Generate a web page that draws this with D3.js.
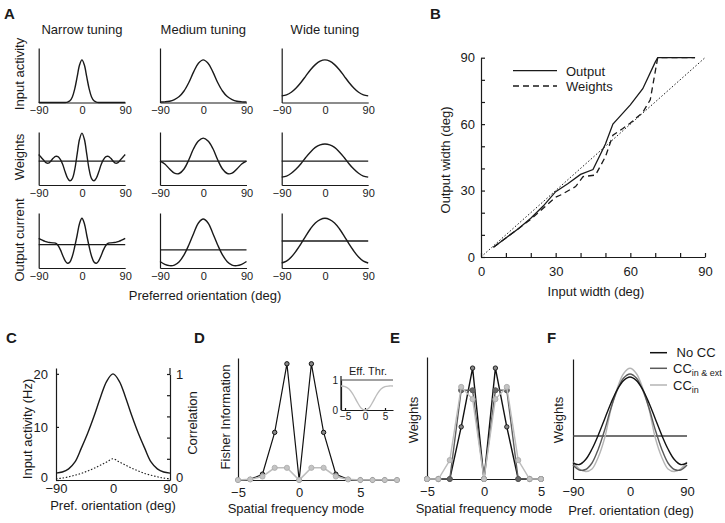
<!DOCTYPE html>
<html>
<head>
<meta charset="utf-8">
<script src="https://cdn.jsdelivr.net/npm/d3@7"></script>
<style>
  body { margin: 0; background: #fff; }
  svg { display: block; }
</style>
</head>
<body>
<svg></svg>
<script>
// ---------- Data ----------

// Panel A: preferred orientation samples (deg)
const orient5 = [-90,-85,-80,-75,-70,-65,-60,-55,-50,-45,-40,-35,-30,-25,-20,-15,-10,-5,0,5,10,15,20,25,30,35,40,45,50,55,60,65,70,75,80,85,90];
const orient10 = [-90,-80,-70,-60,-50,-40,-30,-20,-10,0,10,20,30,40,50,60,70,80,90];

// Input activity (peak = 1)
const inputNarrow = [0,0,0,0,0,0,0,0,0,0,0,0,0.01,0.04,0.13,0.32,0.6,0.88,1,0.88,0.6,0.32,0.13,0.04,0.01,0,0,0,0,0,0,0,0,0,0,0,0];
const inputMedium = [0.01,0.015,0.03,0.07,0.14,0.27,0.47,0.72,0.92,1,0.92,0.72,0.47,0.27,0.14,0.07,0.03,0.015,0.01];
const inputWide = [0.155,0.18,0.24,0.34,0.47,0.62,0.77,0.89,0.97,1,0.97,0.89,0.77,0.62,0.47,0.34,0.24,0.18,0.155];

// Weights (zero line = 0)
const weightsNarrow = [0.24,0.14,0.04,-0.05,-0.07,0.0,0.1,0.17,0.16,0.06,-0.12,-0.38,-0.6,-0.7,-0.62,-0.3,0.25,0.78,1.0,0.78,0.25,-0.3,-0.62,-0.7,-0.6,-0.38,-0.12,0.06,0.16,0.17,0.1,0.0,-0.07,-0.05,0.04,0.14,0.24];
const weightsMedium = [0.0,-0.1,-0.28,-0.43,-0.44,-0.28,0.05,0.45,0.72,0.82,0.72,0.45,0.05,-0.28,-0.44,-0.43,-0.28,-0.1,0.0];
const weightsWide = [-0.57,-0.53,-0.43,-0.28,-0.09,0.13,0.33,0.49,0.58,0.61,0.58,0.49,0.33,0.13,-0.09,-0.28,-0.43,-0.53,-0.57];

// Output current and threshold level
const currentNarrow = [1.13,1.08,1.04,1.01,0.98,0.97,0.96,0.95,0.87,0.7,0.48,0.28,0.18,0.23,0.45,0.82,1.25,1.7,1.9,1.7,1.25,0.82,0.45,0.23,0.18,0.28,0.48,0.7,0.87,0.95,0.96,0.97,0.98,1.01,1.04,1.08,1.13];
const currentMedium = [0.25,0.14,0.09,0.11,0.24,0.5,0.88,1.32,1.72,1.87,1.72,1.32,0.88,0.5,0.24,0.11,0.09,0.14,0.25];
const currentWide = [0.19,0.26,0.42,0.65,0.92,1.22,1.5,1.72,1.85,1.9,1.85,1.72,1.5,1.22,0.92,0.65,0.42,0.26,0.19];
const currentThreshold = [0.89, 0.69, 1.03];

const tuningTitles = ["Narrow tuning", "Medium tuning", "Wide tuning"];
const rowLabels = ["Input activity", "Weights", "Output current"];

// Panel B: width in / width out (deg)
const outputInX = [5,10,15,20,25,30,35,40,45,50,53,55,60,65,70,71,86];
const outputOutY = [4.4,8.6,12.8,17.5,23,29.5,33.2,37.3,39.5,51,60,62.5,68.7,76,88,90,90];
const weightsInX = [5,10,15,20,25,30,32,38,41,46,50,53,57,60,65,68,71,86];
const weightsOutY = [4.4,8.6,12.8,17,22,27,28,31.8,36.3,37,45.3,55,58,60.5,65.3,71,90,90];
const identityX = [0, 90];
const identityY = [0, 90];
const widthTicks = [0,10,20,30,40,50,60,70,80,90];

// Panel C
const activityC = [1.3,1.5,2.1,3.4,6.0,8.8,12.0,15.5,18.6,20,18.6,15.5,12.0,8.8,6.0,3.4,2.1,1.5,1.3];
const correlationC = [0.012,0.018,0.03,0.045,0.062,0.085,0.11,0.14,0.17,0.2,0.17,0.14,0.11,0.085,0.062,0.045,0.03,0.018,0.012];

// Panel D: Fisher information per spatial frequency mode
const modesD = [-5,-4,-3,-2,-1,0,1,2,3,4,5,6,7,8];
const fisherBlack = [0,0.005,0.05,0.41,1,0,1,0.41,0.05,0.005,0,0,0,0];
const fisherGray = [0,0.005,0.03,0.105,0.105,0,0.105,0.105,0.03,0.005,0,0,0,0];
const modesInset = [-6,-5,-4,-3,-2,-1,0,1,2,3,4,5,6,7];
const effThr = [0.8,0.78,0.7,0.52,0.28,0.07,0,0.07,0.28,0.52,0.7,0.78,0.8,0.8];

// Panel E: weights per spatial frequency mode
const modesE = [-5,-4,-3,-2,-1,0,1,2,3,4,5];
const weightsEBlack = [0,0,0,0.47,1,0,1,0.47,0,0,0];
const weightsEDark = [0,0,0,0.8,0.8,0,0.8,0.8,0,0,0];
const weightsELight = [0,0,0.17,0.83,0.72,0,0.72,0.83,0.17,0,0];

// Panel F: weights vs preferred orientation
const weightsNoCC = [-0.27,-0.285,-0.235,-0.13,0.01,0.17,0.33,0.465,0.555,0.59,0.555,0.465,0.33,0.17,0.01,-0.13,-0.235,-0.285,-0.27];
const weightsCCInExt = [-0.29,-0.34,-0.335,-0.27,-0.13,0.06,0.28,0.46,0.58,0.62,0.58,0.46,0.28,0.06,-0.13,-0.27,-0.335,-0.34,-0.29];
const weightsCCIn = [-0.26,-0.33,-0.355,-0.33,-0.21,-0.02,0.27,0.48,0.625,0.677,0.625,0.48,0.27,-0.02,-0.21,-0.33,-0.355,-0.33,-0.26];

// ---------- Drawing ----------
const width = 725;
const height = 523;
const font = '"Liberation Sans", Arial, Helvetica, sans-serif';
const ink = "#1a1a1a";

const svg = d3.select("svg")
  .attr("width", width)
  .attr("height", height)
  .attr("font-family", font);

// restyle an axis group after d3 draws it
function styleAxis(g, size) {
  g.attr("font-family", font).attr("font-size", size);
  g.selectAll(".domain, .tick line").attr("stroke", ink).attr("stroke-width", 1.2);
  g.selectAll("text").attr("fill", ink);
}

function panelLetter(x, y, t) {
  svg.append("text").attr("x", x).attr("y", y)
    .attr("font-size", 15).attr("font-weight", "bold").attr("fill", ink).text(t);
}

function rotLabel(x, y, t, size) {
  return svg.append("text")
    .attr("transform", `translate(${x},${y}) rotate(-90)`)
    .attr("text-anchor", "middle").attr("font-size", size).attr("fill", ink).text(t);
}

function label(x, y, t, size) {
  return svg.append("text").attr("x", x).attr("y", y)
    .attr("text-anchor", "middle").attr("font-size", size).attr("fill", ink).text(t);
}

function path(xs, ys, x, y, curve) {
  return d3.line()
    .x((d, i) => x(xs[i]))
    .y((d) => y(d))
    .curve(curve || d3.curveLinear)(ys);
}

// ===== Panel A =====
panelLetter(4, 19, "A");

const colX = [38.7, 160, 281.7];
const plotW = 86.5;
const rowTop = [48, 132, 213];
const rowBottom = [102.5, 185, 268];
const rowDomain = [[0, 1.28], [-0.85, 1.04], [0, 2.1]];
const rowSeries = [
  [inputNarrow, inputMedium, inputWide],
  [weightsNarrow, weightsMedium, weightsWide],
  [currentNarrow, currentMedium, currentWide]
];
// narrow column is sampled every 5 deg, the others every 10 deg
const colXs = [orient5, orient10, orient10];
const smooth = d3.curveCatmullRom.alpha(0.5);

tuningTitles.forEach((t, c) => label(colX[c] + plotW / 2, 34, t, 13));
const rowLabelY = [74, 157, 240];
rowLabels.forEach((t, r) => rotLabel(24, rowLabelY[r], t, 13));

rowSeries.forEach((series, r) => {
  series.forEach((ys, c) => {
    const x = d3.scaleLinear().domain([-90, 90]).range([colX[c], colX[c] + plotW]);
    const y = d3.scaleLinear().domain(rowDomain[r]).range([rowBottom[r], rowTop[r]]);
    const g = svg.append("g");

    g.append("g")
      .attr("transform", `translate(${colX[c]},0)`)
      .call(d3.axisLeft(y).tickValues([]).tickSizeOuter(0))
      .call(styleAxis, 11);

    g.append("g")
      .attr("transform", `translate(0,${rowBottom[r]})`)
      .call(d3.axisBottom(x).tickValues([-90, 0, 90]).tickSize(0).tickPadding(4).tickSizeOuter(0))
      .call(styleAxis, 11);

    // reference level: zero line for weights, threshold for output current
    let level = null;
    if (r === 1) level = 0;
    if (r === 2) level = currentThreshold[c];
    if (level !== null) {
      g.append("line")
        .attr("x1", x(-90)).attr("x2", x(90))
        .attr("y1", y(level)).attr("y2", y(level))
        .attr("stroke", ink).attr("stroke-width", 1.3);
    }

    g.append("path")
      .attr("d", path(colXs[c], ys, x, y, smooth))
      .attr("fill", "none").attr("stroke", ink).attr("stroke-width", 1.4);
  });
});

label(205, 300, "Preferred orientation (deg)", 13);

// ===== Panel B =====
panelLetter(430, 19, "B");
{
  const x = d3.scaleLinear().domain([0, 90]).range([481, 705]);
  const y = d3.scaleLinear().domain([0, 90]).range([257, 57.7]);
  const fmt = (d) => (d % 30 === 0 ? d : "");

  svg.append("g").attr("transform", "translate(0,257)")
    .call(d3.axisBottom(x).tickValues(widthTicks).tickFormat(fmt).tickSizeInner(-4).tickSizeOuter(0).tickPadding(10))
    .call(styleAxis, 13);
  svg.append("g").attr("transform", "translate(481,0)")
    .call(d3.axisLeft(y).tickValues(widthTicks).tickFormat(fmt).tickSizeInner(-4).tickSizeOuter(0).tickPadding(6))
    .call(styleAxis, 13);

  svg.append("path").attr("d", path(identityX, identityY, x, y))
    .attr("fill", "none").attr("stroke", ink).attr("stroke-width", 1).attr("stroke-dasharray", "1.5,2");
  svg.append("path").attr("d", path(weightsInX, weightsOutY, x, y))
    .attr("fill", "none").attr("stroke", ink).attr("stroke-width", 1.3).attr("stroke-dasharray", "6,4");
  svg.append("path").attr("d", path(outputInX, outputOutY, x, y))
    .attr("fill", "none").attr("stroke", ink).attr("stroke-width", 1.3);

  // legend
  svg.append("line").attr("x1", 513).attr("x2", 557).attr("y1", 70.7).attr("y2", 70.7)
    .attr("stroke", ink).attr("stroke-width", 1.3);
  svg.append("line").attr("x1", 513).attr("x2", 557).attr("y1", 86).attr("y2", 86)
    .attr("stroke", ink).attr("stroke-width", 1.3).attr("stroke-dasharray", "6,4");
  svg.append("text").attr("x", 566).attr("y", 75.5).attr("font-size", 13).attr("fill", ink).text("Output");
  svg.append("text").attr("x", 566).attr("y", 91).attr("font-size", 13).attr("fill", ink).text("Weights");

  rotLabel(450, 160, "Output width (deg)", 13);
  label(596, 296, "Input width (deg)", 13);
}

// ===== Panel C =====
panelLetter(6, 343, "C");
{
  const x = d3.scaleLinear().domain([-90, 90]).range([56, 170]);
  const y = d3.scaleLinear().domain([0, 21.1]).range([480, 368]);
  const yc = d3.scaleLinear().domain([0, 1]).range([480, 374]);

  svg.append("g").attr("transform", "translate(0,480)")
    .call(d3.axisBottom(x).tickValues([-90, 0, 90]).tickSize(0).tickPadding(4).tickSizeOuter(0))
    .call(styleAxis, 13);
  svg.append("g").attr("transform", "translate(56,0)")
    .call(d3.axisLeft(y).tickValues([0, 10, 20]).tickSizeInner(-3).tickSizeOuter(0).tickPadding(8))
    .call(styleAxis, 13)
    // lift the bottom "0" a little so it sits above the x tick labels
    .call((g) => g.selectAll(".tick text").filter((d) => d === 0).attr("dy", "0.1em"));
  svg.append("g").attr("transform", "translate(170,0)")
    .call(d3.axisRight(yc).tickValues([0, 0.2, 0.4, 0.6, 0.8, 1])
      .tickFormat((d) => (d === 0 || d === 1 ? d : "")).tickSizeInner(-3).tickSizeOuter(0).tickPadding(6))
    .call(styleAxis, 13)
    .call((g) => g.selectAll(".tick text").filter((d) => d === 0).attr("dy", "0.1em"));
  // right axis line up to the same top as left
  svg.append("line").attr("x1", 170).attr("x2", 170).attr("y1", 368).attr("y2", 374)
    .attr("stroke", ink).attr("stroke-width", 1.2);

  svg.append("path").attr("d", path(orient10, correlationC, x, yc, smooth))
    .attr("fill", "none").attr("stroke", ink).attr("stroke-width", 1.1).attr("stroke-dasharray", "1.5,1.8");
  svg.append("path").attr("d", path(orient10, activityC, x, y, smooth))
    .attr("fill", "none").attr("stroke", ink).attr("stroke-width", 1.4);

  rotLabel(32, 429, "Input activity (Hz)", 13);
  rotLabel(197, 423, "Correlation", 13);
  label(113, 510, "Pref. orientation (deg)", 13);
}

// ===== Panel D =====
panelLetter(194, 343, "D");
{
  const x = d3.scaleLinear().domain([-5, 8]).range([238, 397]);
  const y = d3.scaleLinear().domain([0, 1.05]).range([480, 358]);

  svg.append("g").attr("transform", "translate(0,480)")
    .call(d3.axisBottom(x).tickValues([-5, 0, 5]).tickSize(0).tickPadding(7.5).tickSizeOuter(0))
    .call(styleAxis, 13);
  svg.append("g").attr("transform", "translate(238,0)")
    .call(d3.axisLeft(y).tickValues([]).tickSizeOuter(0))
    .call(styleAxis, 13);

  svg.append("path").attr("d", path(modesD, fisherBlack, x, y))
    .attr("fill", "none").attr("stroke", "#111").attr("stroke-width", 1.2);
  svg.selectAll(".dBlack").data(fisherBlack).enter().append("circle")
    .attr("cx", (d, i) => x(modesD[i])).attr("cy", (d) => y(d)).attr("r", 2.2)
    .attr("fill", "#888").attr("stroke", "#111").attr("stroke-width", 1);
  svg.append("path").attr("d", path(modesD, fisherGray, x, y))
    .attr("fill", "none").attr("stroke", "#bdbdbd").attr("stroke-width", 1.6);
  svg.selectAll(".dGray").data(fisherGray).enter().append("circle")
    .attr("cx", (d, i) => x(modesD[i])).attr("cy", (d) => y(d)).attr("r", 2.6)
    .attr("fill", "#c4c4c4").attr("stroke", "#aaa").attr("stroke-width", 0.8);

  // inset: effective threshold
  const xi = d3.scaleLinear().domain([-6, 7]).range([341, 393]);
  const yi = d3.scaleLinear().domain([0, 1]).range([410, 380]);
  svg.append("g").attr("transform", "translate(0,410)")
    .call(d3.axisBottom(xi).tickValues([-5, 0, 5]).tickFormat(d3.format("d"))
      .tickSizeInner(-2).tickSizeOuter(0).tickPadding(3))
    .call(styleAxis, 10);
  svg.append("g").attr("transform", "translate(341,0)")
    .call(d3.axisLeft(yi).tickValues([0, 1]).tickFormat(d3.format("d")).tickSize(0).tickPadding(3))
    .call(styleAxis, 10);
  svg.append("line").attr("x1", 341).attr("x2", 341).attr("y1", 376).attr("y2", 410)
    .attr("stroke", ink).attr("stroke-width", 1.2);
  svg.append("line").attr("x1", xi(-6)).attr("x2", xi(7)).attr("y1", yi(1)).attr("y2", yi(1))
    .attr("stroke", "#444").attr("stroke-width", 1.2);
  svg.append("path").attr("d", path(modesInset, effThr, xi, yi, smooth))
    .attr("fill", "none").attr("stroke", "#bdbdbd").attr("stroke-width", 1.3);
  label(368, 375, "Eff. Thr.", 11);

  rotLabel(230, 417, "Fisher Information", 13);
  label(296, 513, "Spatial frequency mode", 13);
}

// ===== Panel E =====
panelLetter(390, 343, "E");
{
  const x = d3.scaleLinear().domain([-5, 5]).range([427, 541]);
  const y = d3.scaleLinear().domain([0, 1.1]).range([479, 357]);

  svg.append("g").attr("transform", "translate(0,479)")
    .call(d3.axisBottom(x).tickValues([-5, 0, 5]).tickSize(0).tickPadding(8).tickSizeOuter(0))
    .call(styleAxis, 13);
  svg.append("g").attr("transform", "translate(427,0)")
    .call(d3.axisLeft(y).tickValues([]).tickSizeOuter(0))
    .call(styleAxis, 13);

  const eSeries = [
    { ys: weightsEBlack, line: "#111", fill: "#888", edge: "#111", r: 2.2 },
    { ys: weightsEDark, line: "#5e5e5e", fill: "#666", edge: "#555", r: 2.6 },
    { ys: weightsELight, line: "#bdbdbd", fill: "#c4c4c4", edge: "#aaa", r: 2.6 }
  ];
  eSeries.forEach((s) => {
    svg.append("path").attr("d", path(modesE, s.ys, x, y))
      .attr("fill", "none").attr("stroke", s.line).attr("stroke-width", 1.4);
    svg.append("g").selectAll("circle").data(s.ys).enter().append("circle")
      .attr("cx", (d, i) => x(modesE[i])).attr("cy", (d) => y(d)).attr("r", s.r)
      .attr("fill", s.fill).attr("stroke", s.edge).attr("stroke-width", 0.9);
  });

  rotLabel(418, 420, "Weights", 13);
  label(484, 513, "Spatial frequency mode", 13);
}

// ===== Panel F =====
panelLetter(547, 343, "F");
{
  const x = d3.scaleLinear().domain([-90, 90]).range([573, 687]);
  const y = d3.scaleLinear().domain([-0.43, 0.77]).range([479, 359]);

  svg.append("g").attr("transform", "translate(0,479)")
    .call(d3.axisBottom(x).tickValues([-90, 0, 90]).tickSize(0).tickPadding(8).tickSizeOuter(0))
    .call(styleAxis, 13);
  svg.append("g").attr("transform", "translate(573,0)")
    .call(d3.axisLeft(y).tickValues([]).tickSizeOuter(0))
    .call(styleAxis, 13);

  svg.append("line").attr("x1", x(-90)).attr("x2", x(90)).attr("y1", y(0)).attr("y2", y(0))
    .attr("stroke", "#444").attr("stroke-width", 1.3);

  const fSeries = [
    { ys: weightsCCIn, color: "#b5b5b5" },
    { ys: weightsCCInExt, color: "#5a5a5a" },
    { ys: weightsNoCC, color: "#111" }
  ];
  fSeries.forEach((s) => {
    svg.append("path").attr("d", path(orient10, s.ys, x, y, smooth))
      .attr("fill", "none").attr("stroke", s.color).attr("stroke-width", 1.4);
  });

  // legend
  const leg = [
    { y: 352.7, color: "#111", main: " No CC", sub: "" },
    { y: 368.3, color: "#5a5a5a", main: "CC", sub: "in & ext" },
    { y: 385, color: "#b5b5b5", main: "CC", sub: "in" }
  ];
  leg.forEach((l) => {
    svg.append("line").attr("x1", 650).attr("x2", 667).attr("y1", l.y).attr("y2", l.y)
      .attr("stroke", l.color).attr("stroke-width", 1.5);
    const t = svg.append("text").attr("x", 673).attr("y", l.y + 4.5)
      .attr("font-size", 13).attr("fill", ink).attr("xml:space", "preserve");
    t.append("tspan").text(l.main);
    if (l.sub) t.append("tspan").attr("dy", 3).attr("font-size", 9).text(l.sub);
  });

  rotLabel(563, 420, "Weights", 13);
  label(631, 515, "Pref. orientation (deg)", 13);
}
</script>
</body>
</html>
